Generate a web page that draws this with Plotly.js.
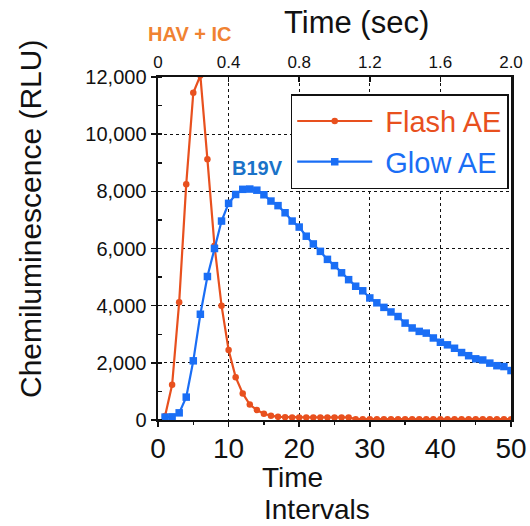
<!DOCTYPE html>
<html>
<head>
<meta charset="utf-8">
<script src="https://cdn.plot.ly/plotly-3.0.1.min.js"></script>
<style>html,body{margin:0;padding:0;background:#fff;}#chart{width:530px;height:526px;}</style>
</head>
<body>
<div id="chart"></div>
<script>
const intervals = [1,2,3,4,5,6,7,8,9,10,11,12,13,14,15,16,17,18,19,20,21,22,23,24,25,26,27,28,29,30,31,32,33,34,35,36,37,38,39,40,41,42,43,44,45,46,47,48,49,50];
const flashAE = [140,1230,4120,8250,11450,12050,9120,6100,4000,2450,1500,930,540,350,220,150,110,100,90,90,90,90,90,90,90,90,90,30,30,30,30,30,30,30,30,30,30,30,30,30,30,30,30,30,30,30,30,30,30,30];
const glowAE = [100,110,250,800,2070,3700,5020,6000,6960,7580,7890,8070,8080,8040,7880,7660,7500,7250,6960,6750,6430,6160,5900,5620,5400,5150,4910,4680,4520,4270,4100,3940,3780,3620,3390,3220,3100,3040,2870,2720,2630,2510,2360,2250,2140,2100,1990,1900,1870,1730];
const yTicks = [0,2000,4000,6000,8000,10000,12000];
const yTickText = ['0','2,000','4,000','6,000','8,000','10,000','12,000'];
const timeTicks = [0,0.4,0.8,1.2,1.6,2.0];
const timeTickText = ['0','0.4','0.8','1.2','1.6','2.0'];

const flashColor = '#E8501E';
const glowColor = '#1A6EF5';

const traces = [
  {x: intervals, y: flashAE, type: 'scatter', mode: 'lines+markers',
   name: '<span style="color:' + flashColor + '">\u00A0Flash AE</span>',
   line: {color: flashColor, width: 2.2}, marker: {symbol: 'circle', size: 6.5, color: flashColor}},
  {x: intervals, y: glowAE, type: 'scatter', mode: 'lines+markers',
   name: '<span style="color:' + glowColor + '">\u00A0Glow AE</span>',
   line: {color: glowColor, width: 2.2}, marker: {symbol: 'square', size: 7.5, color: glowColor}},
  {x: timeTicks, y: timeTicks.map(() => null), xaxis: 'x2', yaxis: 'y', type: 'scatter', mode: 'lines', showlegend: false, hoverinfo: 'skip'}
];

const layout = {
  width: 530, height: 526,
  margin: {l: 158, r: 19, t: 77, b: 106},
  paper_bgcolor: '#fff', plot_bgcolor: '#fff',
  font: {family: 'Liberation Sans, Arial, sans-serif', color: '#111'},
  showlegend: true,
  legend: {x: 0.376, xanchor: 'left', y: 0.95, yanchor: 'top',
    bgcolor: '#fff', bordercolor: '#111', borderwidth: 1.5,
    font: {size: 29, family: 'Liberation Sans, Arial, sans-serif'},
    itemwidth: 75, tracegroupgap: 0},
  xaxis: {range: [0, 50], tickvals: [0,10,20,30,40,50], ticktext: ['0','10','20','30','40','50'],
    tickfont: {size: 28}, ticks: 'outside', ticklen: 5, tickwidth: 1.5, tickcolor: '#111',
    ticklabelstandoff: -3,
    minor: {dtick: 5, tick0: 0, ticks: 'outside', ticklen: 3, tickcolor: '#111', showgrid: false},
    showline: true, linecolor: '#111', linewidth: 2, mirror: true,
    showgrid: true, gridcolor: '#111', griddash: 'dot', gridwidth: 1.2, zeroline: false},
  xaxis2: {range: [0, 2.0], overlaying: 'x', side: 'top', tickvals: timeTicks, ticktext: timeTickText,
    tickfont: {size: 17}, ticks: 'inside', ticklen: 5, tickwidth: 1.5, tickcolor: '#111',
    ticklabelstandoff: 5,
    showgrid: false, zeroline: false, showline: false},
  yaxis: {range: [0, 12000], tickvals: yTicks, ticktext: yTickText, tickfont: {size: 20},
    ticks: 'outside', ticklen: 5, tickwidth: 1.5, tickcolor: '#111',
    minor: {dtick: 1000, tick0: 0, ticks: 'inside', ticklen: 4, tickcolor: '#111', showgrid: false},
    showline: true, linecolor: '#111', linewidth: 2.5, mirror: true,
    showgrid: true, gridcolor: '#111', griddash: 'dot', gridwidth: 1.2, zeroline: false},
  annotations: [
    {text: 'Time (sec)', xref: 'paper', yref: 'paper', x: 0.563, y: 1, yshift: 55, xanchor: 'center', yanchor: 'middle', showarrow: false, font: {size: 31, color: '#111'}},
    {text: 'HAV + IC', xref: 'paper', yref: 'paper', x: 0.092, y: 1, yshift: 43, xanchor: 'center', yanchor: 'middle', showarrow: false, font: {size: 20, color: '#F08232', weight: 'bold'}},
    {text: 'B19V', xref: 'x', yref: 'y', x: 14.1, y: 8800, xanchor: 'center', yanchor: 'middle', showarrow: false, font: {size: 20, color: '#1A72C8', weight: 'bold'}},
    {text: 'Time', xref: 'paper', yref: 'paper', x: 0.38, y: 0, yshift: -57, xanchor: 'center', yanchor: 'middle', showarrow: false, font: {size: 28, color: '#111'}},
    {text: 'Intervals', xref: 'paper', yref: 'paper', x: 0.45, y: 0, yshift: -89, xanchor: 'center', yanchor: 'middle', showarrow: false, font: {size: 28, color: '#111'}},
    {text: 'Chemiluminescence (RLU)', xref: 'paper', yref: 'paper', x: 0, xshift: -128, y: 0.586, xanchor: 'center', yanchor: 'middle', textangle: -90, showarrow: false, font: {size: 30, color: '#111'}}
  ]
};

Plotly.newPlot('chart', traces, layout, {displayModeBar: false, staticPlot: true});
</script>
</body>
</html>
